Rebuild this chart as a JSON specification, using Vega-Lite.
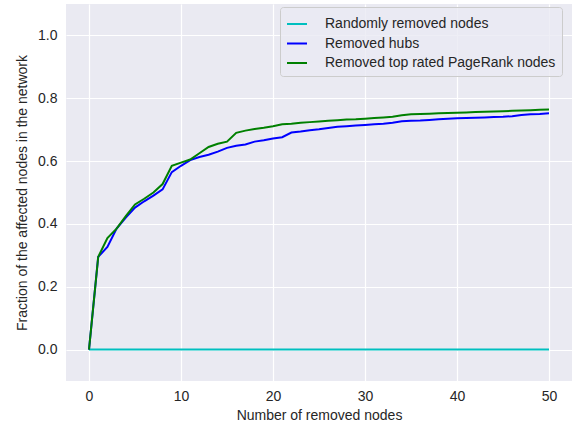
{
  "$schema": "https://vega.github.io/schema/vega-lite/v6.json",
  "width": 506,
  "height": 377,
  "autosize": {"type": "none"},
  "padding": {"left": 66, "top": 4, "right": 1, "bottom": 45},
  "background": "white",
  "config": {
    "view": {"fill": "#eaeaf2", "stroke": null},
    "font": "Liberation Sans",
    "axis": {
      "domain": false, "ticks": false, "gridColor": "white", "gridWidth": 1.2,
      "labelFont": "Liberation Sans", "labelFontSize": 14, "labelColor": "#262626",
      "titleFont": "Liberation Sans", "titleFontSize": 14, "titleColor": "#262626", "titleFontWeight": "normal"
    }
  },
  "data": {"values": [
    {"n":0,"Randomly removed nodes":0,"Removed hubs":0,"Removed top rated PageRank nodes":0},
    {"n":1,"Randomly removed nodes":0,"Removed hubs":0.295,"Removed top rated PageRank nodes":0.295},
    {"n":2,"Randomly removed nodes":0,"Removed hubs":0.327,"Removed top rated PageRank nodes":0.355},
    {"n":3,"Randomly removed nodes":0,"Removed hubs":0.385,"Removed top rated PageRank nodes":0.385},
    {"n":4,"Randomly removed nodes":0,"Removed hubs":0.42,"Removed top rated PageRank nodes":0.425},
    {"n":5,"Randomly removed nodes":0,"Removed hubs":0.452,"Removed top rated PageRank nodes":0.462},
    {"n":6,"Randomly removed nodes":0,"Removed hubs":0.472,"Removed top rated PageRank nodes":0.48},
    {"n":7,"Randomly removed nodes":0,"Removed hubs":0.49,"Removed top rated PageRank nodes":0.5},
    {"n":8,"Randomly removed nodes":0,"Removed hubs":0.51,"Removed top rated PageRank nodes":0.527},
    {"n":9,"Randomly removed nodes":0,"Removed hubs":0.565,"Removed top rated PageRank nodes":0.585},
    {"n":10,"Randomly removed nodes":0,"Removed hubs":0.585,"Removed top rated PageRank nodes":0.595},
    {"n":11,"Randomly removed nodes":0,"Removed hubs":0.603,"Removed top rated PageRank nodes":0.605},
    {"n":12,"Randomly removed nodes":0,"Removed hubs":0.613,"Removed top rated PageRank nodes":0.625},
    {"n":13,"Randomly removed nodes":0,"Removed hubs":0.62,"Removed top rated PageRank nodes":0.645},
    {"n":14,"Randomly removed nodes":0,"Removed hubs":0.63,"Removed top rated PageRank nodes":0.655},
    {"n":15,"Randomly removed nodes":0,"Removed hubs":0.642,"Removed top rated PageRank nodes":0.662},
    {"n":16,"Randomly removed nodes":0,"Removed hubs":0.649,"Removed top rated PageRank nodes":0.69},
    {"n":17,"Randomly removed nodes":0,"Removed hubs":0.653,"Removed top rated PageRank nodes":0.697},
    {"n":18,"Randomly removed nodes":0,"Removed hubs":0.662,"Removed top rated PageRank nodes":0.702},
    {"n":19,"Randomly removed nodes":0,"Removed hubs":0.666,"Removed top rated PageRank nodes":0.706},
    {"n":20,"Randomly removed nodes":0,"Removed hubs":0.672,"Removed top rated PageRank nodes":0.711},
    {"n":21,"Randomly removed nodes":0,"Removed hubs":0.676,"Removed top rated PageRank nodes":0.717},
    {"n":22,"Randomly removed nodes":0,"Removed hubs":0.691,"Removed top rated PageRank nodes":0.719},
    {"n":23,"Randomly removed nodes":0,"Removed hubs":0.694,"Removed top rated PageRank nodes":0.722},
    {"n":24,"Randomly removed nodes":0,"Removed hubs":0.698,"Removed top rated PageRank nodes":0.724},
    {"n":25,"Randomly removed nodes":0,"Removed hubs":0.701,"Removed top rated PageRank nodes":0.726},
    {"n":26,"Randomly removed nodes":0,"Removed hubs":0.705,"Removed top rated PageRank nodes":0.728},
    {"n":27,"Randomly removed nodes":0,"Removed hubs":0.709,"Removed top rated PageRank nodes":0.73},
    {"n":28,"Randomly removed nodes":0,"Removed hubs":0.711,"Removed top rated PageRank nodes":0.732},
    {"n":29,"Randomly removed nodes":0,"Removed hubs":0.713,"Removed top rated PageRank nodes":0.733},
    {"n":30,"Randomly removed nodes":0,"Removed hubs":0.715,"Removed top rated PageRank nodes":0.735},
    {"n":31,"Randomly removed nodes":0,"Removed hubs":0.717,"Removed top rated PageRank nodes":0.737},
    {"n":32,"Randomly removed nodes":0,"Removed hubs":0.719,"Removed top rated PageRank nodes":0.739},
    {"n":33,"Randomly removed nodes":0,"Removed hubs":0.722,"Removed top rated PageRank nodes":0.741},
    {"n":34,"Randomly removed nodes":0,"Removed hubs":0.727,"Removed top rated PageRank nodes":0.746},
    {"n":35,"Randomly removed nodes":0,"Removed hubs":0.728,"Removed top rated PageRank nodes":0.749},
    {"n":36,"Randomly removed nodes":0,"Removed hubs":0.729,"Removed top rated PageRank nodes":0.75},
    {"n":37,"Randomly removed nodes":0,"Removed hubs":0.731,"Removed top rated PageRank nodes":0.751},
    {"n":38,"Randomly removed nodes":0,"Removed hubs":0.733,"Removed top rated PageRank nodes":0.752},
    {"n":39,"Randomly removed nodes":0,"Removed hubs":0.735,"Removed top rated PageRank nodes":0.753},
    {"n":40,"Randomly removed nodes":0,"Removed hubs":0.736,"Removed top rated PageRank nodes":0.754},
    {"n":41,"Randomly removed nodes":0,"Removed hubs":0.737,"Removed top rated PageRank nodes":0.755},
    {"n":42,"Randomly removed nodes":0,"Removed hubs":0.738,"Removed top rated PageRank nodes":0.756},
    {"n":43,"Randomly removed nodes":0,"Removed hubs":0.739,"Removed top rated PageRank nodes":0.757},
    {"n":44,"Randomly removed nodes":0,"Removed hubs":0.74,"Removed top rated PageRank nodes":0.758},
    {"n":45,"Randomly removed nodes":0,"Removed hubs":0.741,"Removed top rated PageRank nodes":0.759},
    {"n":46,"Randomly removed nodes":0,"Removed hubs":0.743,"Removed top rated PageRank nodes":0.76},
    {"n":47,"Randomly removed nodes":0,"Removed hubs":0.747,"Removed top rated PageRank nodes":0.761},
    {"n":48,"Randomly removed nodes":0,"Removed hubs":0.749,"Removed top rated PageRank nodes":0.762},
    {"n":49,"Randomly removed nodes":0,"Removed hubs":0.75,"Removed top rated PageRank nodes":0.763},
    {"n":50,"Randomly removed nodes":0,"Removed hubs":0.752,"Removed top rated PageRank nodes":0.764}
  ]},
  "transform": [
    {"fold": ["Randomly removed nodes", "Removed hubs", "Removed top rated PageRank nodes"], "as": ["series", "value"]}
  ],
  "mark": {"type": "line", "strokeWidth": 2, "clip": true},
  "encoding": {
    "x": {"field": "n", "type": "quantitative",
      "scale": {"domain": [-2.5, 52.5], "nice": false, "zero": false},
      "axis": {"values": [0, 10, 20, 30, 40, 50], "title": "Number of removed nodes", "labelPadding": 8, "titlePadding": 5}},
    "y": {"field": "value", "type": "quantitative",
      "scale": {"domain": [-0.1, 1.1], "nice": false, "zero": false},
      "axis": {"values": [0, 0.2, 0.4, 0.6, 0.8, 1.0], "format": ".1f", "title": "Fraction of the affected nodes in the network", "labelPadding": 9, "titlePadding": 8}},
    "color": {"field": "series", "type": "nominal",
      "scale": {"domain": ["Randomly removed nodes", "Removed hubs", "Removed top rated PageRank nodes"], "range": ["#00bfbf", "#0000ff", "#008000"]},
      "legend": {"title": null, "orient": "none", "legendX": 214, "legendY": 3,
        "symbolType": "stroke", "symbolSize": 400, "symbolStrokeWidth": 2,
        "labelFontSize": 14, "labelColor": "#262626", "labelFont": "Liberation Sans", "labelOffset": 17, "labelLimit": 400,
        "rowPadding": 1.5, "padding": 6,
        "fillColor": "rgba(234,234,242,0.8)", "strokeColor": "#cccccc", "cornerRadius": 3}}
  }
}
